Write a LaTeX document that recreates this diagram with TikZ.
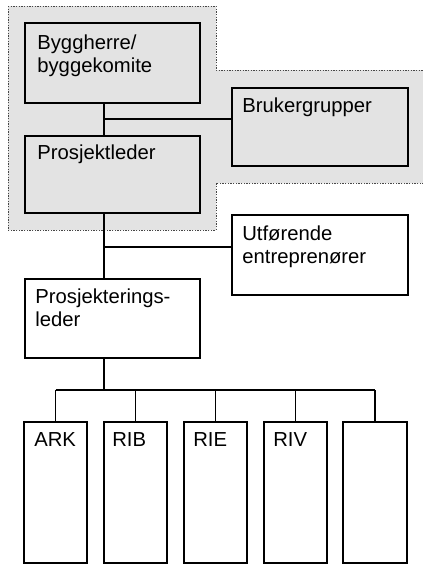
\documentclass[tikz,border=0pt]{standalone}
\usepackage{fontspec}
\setmainfont{Liberation Sans}
\usetikzlibrary{fit,calc}
\tikzset{
  box/.style={draw=black, line width=1.4pt, inner sep=0pt},
  lbl/.style={anchor=base west, inner sep=0pt, align=left,
    font=\fontsize{15.2}{17.25}\selectfont},
  conn/.style={draw=black, line width=1.3pt},
  zone/.style={fill=gray!22, draw=gray!55!black, line width=0.7pt,
    dash pattern=on 0.9pt off 1.1pt}
}
\begin{document}
\begin{tikzpicture}[x=0.75pt,y=-0.75pt]
\useasboundingbox (0,0) rectangle (422,565);

% shaded client zone behind the top of the chart
\path[zone] (8,6) -- (216,6) -- (216,70) -- (426,70) -- (426,183)
  -- (216,183) -- (216,230) -- (8,230) -- cycle;

% boxes
\node[box, fit={(25,23) (200,103)}]   (bygg)   {};
\node[box, fit={(232,88) (408,166)}]  (bruker) {};
\node[box, fit={(25,136) (200,213)}]  (pl)     {};
\node[box, fit={(232,215) (408,295)}] (utf)    {};
\node[box, fit={(25,279) (200,358)}]  (prl)    {};
\node[box, fit={(24,422) (87,563)}]   (ark)    {};
\node[box, fit={(104,422) (167,563)}] (rib)    {};
\node[box, fit={(184,422) (247,563)}] (rie)    {};
\node[box, fit={(264,422) (327,563)}] (riv)    {};
\node[box, fit={(343,422) (407,563)}] (blank)  {};

% labels (two-line labels are anchored on their last baseline)
\node[lbl] (tbygg)   at ($(bygg.north west)+(13,50)$)   {Byggherre/\\byggekomite};
\node[lbl] (tbruker) at ($(bruker.north west)+(11,25)$) {Brukergrupper};
\node[lbl] (tpl)     at ($(pl.north west)+(13,24)$)     {Prosjektleder};
\node[lbl] (tutf)    at ($(utf.north west)+(11,49)$)    {Utførende\\entreprenører};
\node[lbl] (tprl)    at ($(prl.north west)+(11,48)$)    {Prosjekterings-\\leder};
\node[lbl] (tark)    at ($(ark.north west)+(11,25)$)    {ARK};
\node[lbl] (trib)    at ($(rib.north west)+(9,25)$)     {RIB};
\node[lbl] (trie)    at ($(rie.north west)+(10,25)$)    {RIE};
\node[lbl] (triv)    at ($(riv.north west)+(10,25)$)    {RIV};

% connector junctions
\coordinate (spine) at (104,0);
\coordinate (j1) at (104,119);
\coordinate (j2) at (104,247);
\coordinate (bus) at (104,390);

% connectors
\draw[conn] (bygg.south -| spine) -- (pl.north -| spine);
\draw[conn] (j1) -- (j1 -| bruker.west);
\draw[conn] (pl.south -| spine) -- (prl.north -| spine);
\draw[conn] (j2) -- (j2 -| utf.west);
\draw[conn] (prl.south -| spine) -- (bus);
\draw[conn] (bus -| ark.north) -- (bus -| blank.north);
\draw[conn] (bus -| ark.north) -- (ark.north);
\draw[conn] (bus -| rib.north) -- (rib.north);
\draw[conn] (bus -| rie.north) -- (rie.north);
\draw[conn] (bus -| riv.north) -- (riv.north);
\draw[conn] (bus -| blank.north) -- (blank.north);
\end{tikzpicture}
\end{document}
